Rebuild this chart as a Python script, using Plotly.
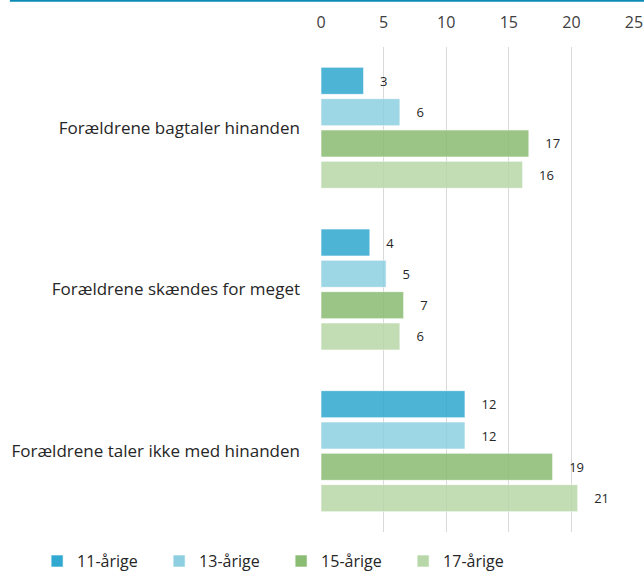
import plotly.graph_objects as go

# Categories (top to bottom) and values per age group
categories = [
    "Forældrene bagtaler hinanden",
    "Forældrene skændes for meget",
    "Forældrene taler ikke med hinanden",
]
series_names = ["11-årige", "13-årige", "15-årige", "17-årige"]

values_11 = [3.4, 3.9, 11.5]
values_13 = [6.3, 5.2, 11.5]
values_15 = [16.6, 6.6, 18.5]
values_17 = [16.1, 6.3, 20.5]

labels_11 = ["3", "4", "12"]
labels_13 = ["6", "5", "12"]
labels_15 = ["17", "7", "19"]
labels_17 = ["16", "6", "21"]

tick_values = [0, 5, 10, 15, 20, 25]

colors = ["#30a8d0", "#8dcfe1", "#8abc73", "#b8d7a8"]

all_values = [values_11, values_13, values_15, values_17]
all_labels = [labels_11, labels_13, labels_15, labels_17]

pad = "\u00a0" * 4

fig = go.Figure()

for name, vals, labs, col in zip(series_names, all_values, all_labels, colors):
    fig.add_trace(go.Bar(
        y=categories,
        x=vals,
        name=name,
        orientation="h",
        marker=dict(color=col, opacity=0.85,
                    line=dict(color="rgba(255,255,255,0.6)", width=1)),
        text=[pad + t for t in labs],
        textposition="outside",
        cliponaxis=False,
        textfont=dict(family="Open Sans", size=13, color="#262626"),
        hoverinfo="skip",
    ))

# teal rule along the top edge
fig.add_shape(
    type="line",
    xref="paper", yref="paper",
    x0=-0.994, x1=1.05, y0=1.0955, y1=1.0955,
    line=dict(color="#0a8ab5", width=2),
)

# figure is taller than the window so the legend runs off the bottom edge
fig.update_layout(
    width=644,
    height=600,
    barmode="group",
    bargap=0.225,
    bargroupgap=0.137,
    plot_bgcolor="white",
    paper_bgcolor="white",
    margin=dict(l=321, r=10, t=47, b=68),
    font=dict(family="Open Sans", color="#262626"),
    showlegend=True,
    legend=dict(
        orientation="h",
        xref="paper", yref="paper",
        x=-0.907, y=-0.025,
        xanchor="left", yanchor="top",
        entrywidth=77, entrywidthmode="pixels",
        font=dict(size=16, color="#262626"),
        traceorder="normal",
    ),
)

fig.update_xaxes(
    side="top",
    range=[0, 25],
    tickvals=tick_values,
    showgrid=True,
    gridcolor="#d9d9d9",
    gridwidth=1,
    zeroline=False,
    showline=False,
    automargin=False,
    tickfont=dict(size=16, color="#404040"),
    ticklabelstandoff=15,
)

fig.update_yaxes(
    autorange="reversed",
    showgrid=False,
    showline=False,
    automargin=False,
    ticks="",
    tickfont=dict(size=17, color="#262626"),
    ticklabelstandoff=20,
)

fig.write_html(
    "out.html",
    config={"displayModeBar": False},
    post_script="document.body.style.margin='0';document.body.style.overflow='hidden';",
)
